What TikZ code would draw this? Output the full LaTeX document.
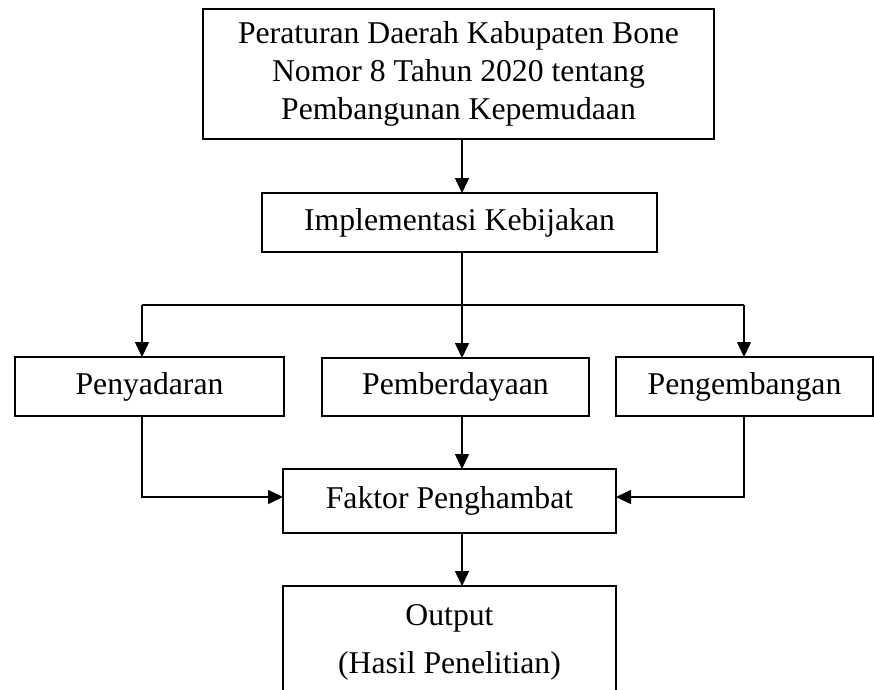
\documentclass[tikz,border=0pt]{standalone}
\usepackage{fontspec}
\setmainfont{Liberation Serif}
\usetikzlibrary{arrows.meta}
\begin{document}
\begin{tikzpicture}[x=1pt,y=-1pt,
  box/.style={draw, line width=1.5pt, rectangle, inner sep=0pt, outer sep=0pt, align=center,
    font=\fontsize{31.7}{38}\selectfont},
  txt/.style={inner sep=0pt, font=\fontsize{31.7}{38}\selectfont},
  conn/.style={line width=1.5pt},
  arr/.style={line width=1.5pt, -{Triangle[length=15pt,width=14pt]}}]
\useasboundingbox (0,0) rectangle (874,689);
\clip (0,0) rectangle (874,689);
\node[box, minimum width=511pt, minimum height=130pt] (top) at (458.5,74)
  {Peraturan Daerah Kabupaten Bone\\Nomor 8 Tahun 2020 tentang\\Pembangunan Kepemudaan};
\node[box, minimum width=395pt, minimum height=59pt] (impl) at (459.5,222.5) {Implementasi Kebijakan};
\node[box, minimum width=269pt, minimum height=59pt] (pen) at (149.5,386.5) {Penyadaran};
\node[box, minimum width=267pt, minimum height=58pt] (pem) at (455.5,387) {Pemberdayaan};
\node[box, minimum width=257pt, minimum height=59pt] (peng) at (744.5,386.5) {Pengembangan};
\node[box, minimum width=333pt, minimum height=64pt] (fak) at (449.5,501) {Faktor Penghambat};
\node[box, minimum width=333pt, minimum height=150pt] (out) at (449.5,661) {};
\node[txt, anchor=base] (out1) at (449.5,625) {Output};
\node[txt, anchor=base] (out2) at (449.5,673) {(Hasil Penelitian)};
\coordinate (split) at (462,305);
\coordinate (bl) at (142,305);
\coordinate (br) at (744,305);
\coordinate (hy) at (0,497);
\draw[arr] (top.south -| split) -- (impl.north -| split);
\draw[conn] (impl.south -| split) -- (split);
\draw[conn] (bl) -- (br);
\draw[arr] (bl) -- (bl |- pen.north);
\draw[arr] (split) -- (pem.north -| split);
\draw[arr] (br) -- (br |- peng.north);
\draw[arr] (bl |- pen.south) -- (bl |- hy) -- (fak.west |- hy);
\draw[arr] (br |- peng.south) -- (br |- hy) -- (fak.east |- hy);
\draw[arr] (pem.south -| split) -- (fak.north -| split);
\draw[arr] (fak.south -| split) -- (out.north -| split);
\end{tikzpicture}
\end{document}
